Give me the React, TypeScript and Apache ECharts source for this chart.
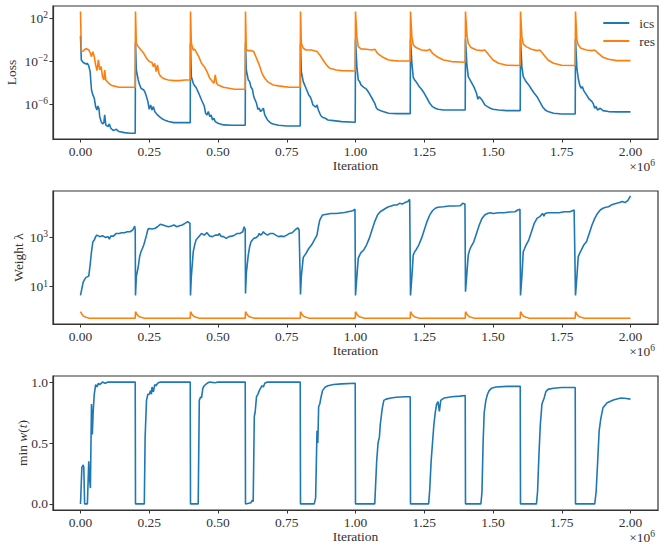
import React, { useEffect, useRef } from "react";
import * as echarts from "echarts";

const FONT = '"Liberation Serif", "DejaVu Serif", serif';
const BLUE = "#1f77b4";
const ORANGE = "#ff7f0e";
const INK = "#333333";
const FS = 13.5;

// x in units of 1e6 iterations
const xTicks = [0, 0.25, 0.5, 0.75, 1, 1.25, 1.5, 1.75, 2];
const lossTickExps = [-6, -2, 2];
const weightTickExps = [1, 3];
const minWTicks = [0, 0.5, 1];
const seriesNames = ["ics", "res"];

// Loss (log10 of value), ics
const icsLossLog10: [number, number][] = [
  [0, 0.36], [0.003, -1.88], [0.01, -2.12], [0.02, -2.25], [0.025, -2.19], [0.03, -2.43], [0.035, -2.96], [0.04, -4.67], [0.045, -5.13], [0.05, -5.44], [0.055, -6.22], [0.06, -6.53], [0.063, -6.16], [0.067, -6.37], [0.07, -7.15], [0.075, -7.61], [0.08, -7.83], [0.085, -7.71], [0.088, -6.99], [0.092, -7.92], [0.1, -8.08], [0.105, -7.83], [0.11, -8.23], [0.12, -8.45], [0.13, -8.33], [0.14, -8.54], [0.16, -8.64], [0.18, -8.7], [0.199, -8.7],
  [0.2, -0.26], [0.203, -2.81], [0.21, -3.74], [0.215, -4.2], [0.22, -4.51], [0.23, -4.67], [0.235, -4.91], [0.24, -5.29], [0.245, -5.75], [0.25, -6.47], [0.255, -6.06], [0.26, -6.53], [0.265, -6.22], [0.27, -6.68], [0.275, -6.84], [0.28, -6.99], [0.29, -7.21], [0.3, -7.4], [0.31, -7.52], [0.32, -7.61], [0.34, -7.71], [0.38, -7.71], [0.399, -7.71],
  [0.4, -0.33], [0.403, -3.43], [0.41, -4.05], [0.415, -4.29], [0.42, -4.42], [0.43, -4.98], [0.44, -5.6], [0.45, -6.16], [0.455, -6.84], [0.46, -6.99], [0.465, -6.68], [0.47, -7.15], [0.475, -6.99], [0.48, -7.46], [0.485, -7.3], [0.49, -7.61], [0.5, -7.77], [0.52, -7.92], [0.55, -7.95], [0.599, -7.95],
  [0.6, -0.33], [0.603, -2.81], [0.61, -3.74], [0.615, -3.89], [0.62, -4.42], [0.625, -4.6], [0.63, -5.29], [0.635, -5.6], [0.64, -5.91], [0.645, -6.47], [0.65, -6.37], [0.655, -6.68], [0.66, -6.53], [0.665, -6.37], [0.67, -6.99], [0.68, -7.46], [0.69, -7.71], [0.7, -7.83], [0.72, -7.95], [0.75, -8.02], [0.799, -8.02],
  [0.8, -0.33], [0.803, -2.96], [0.81, -3.89], [0.815, -4.2], [0.82, -4.51], [0.83, -5.13], [0.835, -5.29], [0.84, -5.6], [0.845, -6.06], [0.85, -6.16], [0.855, -6.28], [0.86, -6.06], [0.865, -6.53], [0.87, -6.84], [0.875, -7.09], [0.88, -7.21], [0.89, -7.3], [0.9, -7.46], [0.92, -7.52], [0.95, -7.61], [0.999, -7.67],
  [1.0, 0.05], [1.005, -2.5], [1.01, -3.74], [1.015, -3.89], [1.02, -4.2], [1.03, -4.42], [1.04, -4.6], [1.05, -4.98], [1.06, -5.44], [1.07, -5.91], [1.075, -6.28], [1.08, -6.47], [1.09, -6.59], [1.1, -6.68], [1.12, -6.84], [1.15, -6.87], [1.199, -6.87],
  [1.2, 0.05], [1.205, -2.19], [1.21, -3.49], [1.215, -3.74], [1.22, -3.89], [1.23, -4.29], [1.24, -4.6], [1.25, -4.98], [1.26, -5.44], [1.27, -5.91], [1.28, -6.22], [1.29, -6.37], [1.3, -6.47], [1.32, -6.53], [1.35, -6.53], [1.399, -6.53],
  [1.4, 0.05], [1.405, -2.34], [1.41, -3.43], [1.42, -3.89], [1.43, -4.36], [1.44, -4.98], [1.445, -5.53], [1.45, -5.29], [1.46, -5.6], [1.47, -6.06], [1.48, -6.22], [1.49, -6.37], [1.5, -6.47], [1.52, -6.53], [1.55, -6.59], [1.599, -6.59],
  [1.6, 0.05], [1.605, -2.5], [1.61, -3.43], [1.62, -3.89], [1.63, -4.2], [1.64, -4.6], [1.65, -4.98], [1.66, -5.29], [1.67, -5.75], [1.68, -6.22], [1.69, -6.53], [1.7, -6.68], [1.72, -6.84], [1.75, -6.9], [1.799, -6.9],
  [1.8, 0.05], [1.805, -2.65], [1.81, -3.58], [1.815, -4.2], [1.82, -4.51], [1.825, -4.36], [1.83, -4.73], [1.84, -5.13], [1.85, -5.53], [1.86, -5.75], [1.865, -5.97], [1.87, -6.37], [1.875, -6.22], [1.88, -6.53], [1.89, -6.37], [1.9, -6.59], [1.92, -6.68], [1.95, -6.71], [2.0, -6.71],
];

// Loss (log10 of value), res
const resLossLog10: [number, number][] = [
  [0, 2.62], [0.003, -1.1], [0.01, -1.04], [0.02, -0.82], [0.03, -0.95], [0.035, -1.19], [0.04, -1.57], [0.045, -1.1], [0.05, -1.57], [0.055, -2.34], [0.06, -2.87], [0.065, -1.88], [0.07, -2.81], [0.075, -2.5], [0.08, -3.43], [0.085, -3.74], [0.088, -2.81], [0.092, -3.74], [0.1, -3.98], [0.11, -4.2], [0.12, -4.29], [0.14, -4.42], [0.199, -4.42],
  [0.2, 2.62], [0.203, -0.33], [0.21, -0.64], [0.22, -0.95], [0.23, -1.26], [0.24, -1.72], [0.25, -2.03], [0.26, -2.12], [0.265, -2.5], [0.27, -2.19], [0.275, -2.96], [0.28, -2.34], [0.285, -3.12], [0.29, -3.36], [0.3, -3.58], [0.31, -3.67], [0.32, -3.74], [0.34, -3.8], [0.36, -3.8], [0.38, -3.74], [0.399, -3.74],
  [0.4, 2.62], [0.403, -0.33], [0.41, -0.95], [0.415, -0.88], [0.42, -1.1], [0.43, -1.57], [0.44, -2.19], [0.45, -2.5], [0.46, -2.96], [0.47, -3.58], [0.48, -3.89], [0.485, -4.05], [0.49, -3.27], [0.495, -4.05], [0.5, -4.2], [0.52, -4.42], [0.54, -4.51], [0.56, -4.6], [0.599, -4.6],
  [0.6, 2.62], [0.603, -0.95], [0.61, -1.01], [0.62, -1.01], [0.63, -1.1], [0.64, -1.72], [0.65, -2.34], [0.66, -3.12], [0.67, -3.58], [0.68, -3.89], [0.69, -4.05], [0.7, -4.2], [0.72, -4.29], [0.74, -4.36], [0.76, -4.42], [0.799, -4.42],
  [0.8, 2.62], [0.803, -0.33], [0.81, -0.79], [0.82, -0.95], [0.84, -0.95], [0.86, -1.1], [0.87, -1.41], [0.88, -1.81], [0.89, -2.19], [0.9, -2.5], [0.906, -2.65], [0.93, -2.81], [0.95, -2.87], [0.999, -2.9],
  [1.0, 2.62], [1.005, 0.29], [1.01, -0.64], [1.02, -0.85], [1.04, -0.88], [1.06, -0.95], [1.07, -0.88], [1.08, -1.26], [1.1, -1.63], [1.12, -1.88], [1.14, -1.94], [1.16, -1.97], [1.199, -1.97],
  [1.2, 2.62], [1.205, 0.29], [1.21, -0.48], [1.22, -0.73], [1.24, -0.95], [1.26, -1.01], [1.27, -0.88], [1.28, -1.26], [1.3, -1.63], [1.32, -1.88], [1.35, -2.03], [1.399, -2.09],
  [1.4, 2.62], [1.405, 0.45], [1.41, -0.33], [1.42, -0.73], [1.44, -0.95], [1.46, -1.01], [1.47, -0.95], [1.48, -1.26], [1.5, -1.88], [1.52, -2.19], [1.55, -2.37], [1.599, -2.4],
  [1.6, 2.62], [1.605, 0.29], [1.61, -0.39], [1.62, -0.64], [1.64, -0.88], [1.66, -1.01], [1.67, -0.95], [1.68, -1.26], [1.7, -1.88], [1.72, -2.19], [1.75, -2.37], [1.799, -2.4],
  [1.8, 2.62], [1.805, -0.02], [1.81, -0.48], [1.82, -0.79], [1.84, -0.95], [1.86, -1.01], [1.87, -0.95], [1.88, -1.19], [1.9, -1.63], [1.92, -1.81], [1.95, -1.94], [2.0, -1.94],
];

// Weight lambda (log10 of value), ics
const icsWeightLog10: [number, number][] = [
  [0, 0.65], [0.005, 0.93], [0.01, 1.2], [0.015, 1.3], [0.02, 1.38], [0.03, 1.43], [0.035, 1.88], [0.04, 2.42], [0.045, 2.82], [0.05, 2.89], [0.055, 3.03], [0.06, 3.09], [0.07, 3.03], [0.08, 3.07], [0.09, 3.0], [0.1, 3.03], [0.105, 2.93], [0.11, 3.05], [0.12, 3.05], [0.13, 3.16], [0.14, 3.16], [0.15, 3.19], [0.16, 3.19], [0.17, 3.23], [0.18, 3.23], [0.19, 3.3], [0.197, 3.46], [0.199, 3.3],
  [0.2, 0.65], [0.203, 1.41], [0.21, 1.81], [0.215, 2.22], [0.22, 2.42], [0.225, 2.55], [0.23, 2.69], [0.235, 2.89], [0.24, 3.09], [0.245, 3.32], [0.25, 3.36], [0.26, 3.34], [0.27, 3.36], [0.28, 3.43], [0.29, 3.53], [0.3, 3.5], [0.31, 3.46], [0.32, 3.43], [0.33, 3.46], [0.34, 3.5], [0.35, 3.43], [0.36, 3.47], [0.37, 3.5], [0.38, 3.57], [0.39, 3.64], [0.398, 3.57],
  [0.4, 0.65], [0.403, 1.41], [0.41, 2.42], [0.415, 2.69], [0.42, 2.89], [0.425, 2.96], [0.43, 3.03], [0.44, 3.16], [0.45, 3.09], [0.46, 3.19], [0.47, 3.05], [0.48, 3.03], [0.49, 3.09], [0.5, 3.09], [0.505, 3.16], [0.51, 3.05], [0.52, 3.03], [0.53, 2.96], [0.54, 3.03], [0.55, 3.05], [0.56, 3.09], [0.57, 3.16], [0.58, 3.16], [0.59, 3.23], [0.595, 3.43], [0.599, 3.32],
  [0.6, 0.73], [0.603, 1.54], [0.61, 2.28], [0.615, 2.62], [0.62, 2.82], [0.63, 2.96], [0.64, 3.0], [0.645, 3.05], [0.65, 3.16], [0.655, 3.09], [0.66, 3.14], [0.665, 3.23], [0.67, 3.16], [0.68, 3.09], [0.69, 3.16], [0.7, 3.16], [0.71, 3.09], [0.72, 3.03], [0.73, 3.05], [0.74, 3.03], [0.75, 3.09], [0.76, 3.16], [0.77, 3.19], [0.78, 3.3], [0.79, 3.39], [0.795, 3.3],
  [0.8, 0.69], [0.803, 1.41], [0.81, 2.19], [0.82, 2.35], [0.83, 2.55], [0.84, 2.69], [0.85, 2.89], [0.86, 3.09], [0.865, 3.43], [0.87, 3.7], [0.88, 3.91], [0.89, 3.93], [0.9, 3.95], [0.91, 3.97], [0.93, 3.97], [0.96, 4.01], [0.99, 4.08], [0.998, 4.14],
  [1.0, 0.65], [1.005, 1.41], [1.01, 2.15], [1.015, 2.28], [1.02, 2.38], [1.03, 2.49], [1.04, 2.69], [1.05, 2.96], [1.06, 3.3], [1.07, 3.64], [1.08, 3.91], [1.09, 4.04], [1.1, 4.11], [1.11, 4.18], [1.12, 4.24], [1.13, 4.27], [1.14, 4.31], [1.15, 4.31], [1.16, 4.38], [1.17, 4.35], [1.18, 4.41], [1.19, 4.45], [1.197, 4.54],
  [1.2, 0.65], [1.205, 1.41], [1.21, 2.28], [1.215, 2.42], [1.22, 2.49], [1.23, 2.69], [1.24, 2.96], [1.25, 3.3], [1.26, 3.64], [1.27, 3.91], [1.28, 4.08], [1.29, 4.18], [1.3, 4.22], [1.32, 4.24], [1.34, 4.27], [1.36, 4.27], [1.38, 4.28], [1.39, 4.38], [1.398, 4.35],
  [1.4, 0.8], [1.405, 1.54], [1.41, 2.28], [1.415, 2.49], [1.42, 2.62], [1.43, 2.82], [1.44, 3.16], [1.45, 3.5], [1.46, 3.77], [1.47, 3.91], [1.48, 3.97], [1.49, 4.0], [1.5, 3.97], [1.52, 4.0], [1.54, 4.0], [1.56, 4.03], [1.58, 4.04], [1.59, 4.11], [1.598, 4.14],
  [1.6, 0.65], [1.605, 1.41], [1.61, 2.42], [1.615, 2.55], [1.62, 2.69], [1.63, 2.89], [1.64, 3.23], [1.65, 3.57], [1.66, 3.77], [1.67, 3.84], [1.68, 3.97], [1.685, 3.86], [1.69, 3.97], [1.7, 4.0], [1.72, 4.0], [1.74, 4.0], [1.76, 4.04], [1.78, 4.04], [1.795, 4.11],
  [1.8, 0.65], [1.805, 1.41], [1.81, 2.22], [1.815, 2.35], [1.82, 2.46], [1.83, 2.69], [1.84, 2.82], [1.85, 3.16], [1.86, 3.5], [1.87, 3.77], [1.88, 3.97], [1.89, 4.11], [1.9, 4.18], [1.91, 4.22], [1.92, 4.24], [1.93, 4.31], [1.94, 4.35], [1.95, 4.38], [1.96, 4.41], [1.97, 4.45], [1.98, 4.41], [1.99, 4.49], [2.0, 4.68],
];

// Weight lambda (log10 of value), res
const resWeightLog10: [number, number][] = [
  [0, -0.01], [0.005, -0.11], [0.01, -0.18], [0.015, -0.22], [0.02, -0.24], [0.03, -0.27], [0.05, -0.28], [0.199, -0.28],
  [0.2, -0.01], [0.205, -0.11], [0.21, -0.18], [0.215, -0.22], [0.22, -0.24], [0.23, -0.27], [0.25, -0.28], [0.399, -0.28],
  [0.4, -0.01], [0.405, -0.11], [0.41, -0.18], [0.415, -0.22], [0.42, -0.24], [0.43, -0.27], [0.45, -0.28], [0.599, -0.28],
  [0.6, -0.01], [0.605, -0.11], [0.61, -0.18], [0.615, -0.22], [0.62, -0.24], [0.63, -0.27], [0.65, -0.28], [0.799, -0.28],
  [0.8, -0.01], [0.805, -0.11], [0.81, -0.18], [0.815, -0.22], [0.82, -0.24], [0.83, -0.27], [0.85, -0.28], [0.999, -0.28],
  [1.0, -0.01], [1.005, -0.11], [1.01, -0.18], [1.015, -0.22], [1.02, -0.24], [1.03, -0.27], [1.05, -0.28], [1.199, -0.28],
  [1.2, -0.01], [1.205, -0.11], [1.21, -0.18], [1.215, -0.22], [1.22, -0.24], [1.23, -0.27], [1.25, -0.28], [1.399, -0.28],
  [1.4, -0.01], [1.405, -0.11], [1.41, -0.18], [1.415, -0.22], [1.42, -0.24], [1.43, -0.27], [1.45, -0.28], [1.599, -0.28],
  [1.6, -0.01], [1.605, -0.11], [1.61, -0.18], [1.615, -0.22], [1.62, -0.24], [1.63, -0.27], [1.65, -0.28], [1.799, -0.28],
  [1.8, -0.01], [1.805, -0.11], [1.81, -0.18], [1.815, -0.22], [1.82, -0.24], [1.83, -0.27], [1.85, -0.28], [2.0, -0.28],
];

// min w(t)
const minW: [number, number][] = [
  [0, 0], [0.005, 0.3], [0.01, 0.32], [0.012, 0.3], [0.015, 0], [0.025, 0], [0.03, 0.35], [0.033, 0.2], [0.036, 0.13], [0.04, 0.82], [0.043, 0.57], [0.046, 0.75], [0.05, 0.9], [0.055, 0.98], [0.06, 0.96], [0.065, 0.99], [0.07, 0.98], [0.08, 1.0], [0.09, 0.99], [0.1, 1.0], [0.199, 1.0],
  [0.2, 0], [0.232, 0], [0.235, 0.55], [0.24, 0.85], [0.245, 0.9], [0.25, 0.9], [0.255, 0.93], [0.258, 0.9], [0.26, 0.96], [0.265, 0.92], [0.27, 0.98], [0.275, 0.97], [0.28, 0.99], [0.29, 1.0], [0.399, 1.0],
  [0.4, 0], [0.428, 0], [0.432, 0.85], [0.437, 0.88], [0.44, 0.87], [0.445, 0.95], [0.45, 0.97], [0.46, 0.99], [0.47, 1.0], [0.49, 0.995], [0.5, 1.0], [0.599, 1.0],
  [0.6, 0], [0.62, 0.01], [0.625, 0.03], [0.628, 0.02], [0.632, 0.72], [0.635, 0.75], [0.64, 0.88], [0.645, 0.9], [0.65, 0.93], [0.655, 0.95], [0.66, 0.97], [0.665, 0.96], [0.67, 0.99], [0.68, 1.0], [0.799, 1.0],
  [0.8, 0], [0.85, 0], [0.855, 0.05], [0.86, 0.6], [0.863, 0.5], [0.866, 0.8], [0.87, 0.82], [0.875, 0.88], [0.88, 0.93], [0.89, 0.96], [0.9, 0.97], [0.92, 0.98], [0.95, 0.985], [0.999, 0.99],
  [1.0, 0], [1.07, 0], [1.073, 0.15], [1.077, 0.35], [1.082, 0.5], [1.087, 0.55], [1.09, 0.65], [1.097, 0.78], [1.103, 0.85], [1.111, 0.86], [1.129, 0.87], [1.148, 0.875], [1.18, 0.88], [1.199, 0.88],
  [1.2, 0], [1.266, 0], [1.27, 0.12], [1.275, 0.35], [1.28, 0.5], [1.285, 0.65], [1.29, 0.75], [1.295, 0.82], [1.3, 0.84], [1.305, 0.76], [1.31, 0.85], [1.323, 0.87], [1.35, 0.88], [1.38, 0.885], [1.399, 0.89],
  [1.4, 0], [1.456, 0], [1.46, 0.1], [1.464, 0.5], [1.468, 0.75], [1.474, 0.85], [1.48, 0.9], [1.486, 0.93], [1.495, 0.95], [1.51, 0.96], [1.55, 0.965], [1.599, 0.965],
  [1.6, 0], [1.658, 0], [1.662, 0.1], [1.667, 0.4], [1.672, 0.65], [1.678, 0.82], [1.686, 0.87], [1.692, 0.92], [1.7, 0.94], [1.72, 0.95], [1.75, 0.955], [1.799, 0.956],
  [1.8, 0], [1.87, 0], [1.875, 0.1], [1.88, 0.32], [1.886, 0.6], [1.892, 0.7], [1.9, 0.79], [1.915, 0.83], [1.94, 0.855], [1.965, 0.87], [1.985, 0.865], [2.0, 0.86],
];

const fromLog10 = (pts: [number, number][]) => pts.map(([x, e]) => [x, Math.pow(10, e)]);

const supRich = {
  b: { fontFamily: FONT, fontSize: FS, color: INK, lineHeight: 16 },
  s: { fontFamily: FONT, fontSize: 9.5, color: INK, lineHeight: 8, verticalAlign: "top" },
};

const powLabel = (v: number) => {
  const e = Math.round(Math.log10(v));
  const t = e < 0 ? "\u2212" + Math.abs(e) : String(e);
  return `{b|10}{s|${t}}`;
};

export default function App() {
  const ref = useRef<HTMLDivElement>(null);

  useEffect(() => {
    if (!ref.current) return;
    const chart = echarts.init(ref.current, null, { renderer: "svg" });

    const grids = [
      { left: 53, top: 6, width: 605, height: 133 },
      { left: 53, top: 191, width: 605, height: 133 },
      { left: 53, top: 376, width: 605, height: 134 },
    ].map((g) => ({
      ...g,
      show: true,
      borderColor: INK,
      borderWidth: 1.2,
      backgroundColor: "#fff",
      containLabel: false,
      outerBoundsMode: "none",
    }));

    const xAxes = [0, 1, 2].map((gi) => ({
      type: "value",
      gridIndex: gi,
      min: -0.1,
      max: 2.1,
      name: "Iteration",
      nameLocation: "middle",
      nameGap: 19,
      nameMoveOverlap: false,
      nameTextStyle: { fontFamily: FONT, fontSize: FS, color: INK },
      axisLine: { show: true, onZero: false, lineStyle: { color: INK, width: 1.2 } },
      axisTick: { show: true, length: 3.5, customValues: xTicks, lineStyle: { color: INK, width: 1 } },
      axisLabel: {
        customValues: xTicks,
        formatter: (v: number) => v.toFixed(2),
        margin: 5,
        fontFamily: FONT,
        fontSize: FS,
        lineHeight: 14,
        color: INK,
      },
      splitLine: { show: false },
    }));

    const yCommon = {
      nameLocation: "middle",
      nameRotate: 90,
      nameMoveOverlap: false,
      axisLine: { show: true, onZero: false, lineStyle: { color: INK, width: 1.2 } },
      splitLine: { show: false },
    };

    const lossTicks = lossTickExps.map((e) => Math.pow(10, e));
    const weightTicks = weightTickExps.map((e) => Math.pow(10, e));

    const yAxes = [
      {
        ...yCommon,
        type: "log",
        logBase: 10,
        gridIndex: 0,
        min: Math.pow(10, -9.23),
        max: Math.pow(10, 3.14),
        name: "Loss",
        nameGap: 35,
        nameTextStyle: { fontFamily: FONT, fontSize: FS, color: INK },
        axisTick: { show: true, length: 3.5, customValues: lossTicks, lineStyle: { color: INK, width: 1 } },
        axisLabel: { customValues: lossTicks, formatter: powLabel, margin: 5, rich: supRich },
      },
      {
        ...yCommon,
        type: "log",
        logBase: 10,
        gridIndex: 1,
        min: Math.pow(10, -0.51),
        max: Math.pow(10, 4.88),
        name: "Weight \u03bb",
        nameGap: 28,
        nameTextStyle: { fontFamily: FONT, fontSize: FS, color: INK },
        axisTick: { show: true, length: 3.5, customValues: weightTicks, lineStyle: { color: INK, width: 1 } },
        axisLabel: { customValues: weightTicks, formatter: powLabel, margin: 5, rich: supRich },
      },
      {
        ...yCommon,
        type: "value",
        gridIndex: 2,
        min: -0.05,
        max: 1.05,
        name: "{r|min }{i|w}{r|(}{i|t}{r|)}",
        nameGap: 24,
        nameTextStyle: {
          fontFamily: FONT,
          fontSize: FS,
          color: INK,
          rich: {
            r: { fontFamily: FONT, fontSize: FS, color: INK },
            i: { fontFamily: FONT, fontSize: FS, color: INK, fontStyle: "italic" },
          },
        },
        axisTick: { show: true, length: 3.5, customValues: minWTicks, lineStyle: { color: INK, width: 1 } },
        axisLabel: {
          customValues: minWTicks,
          formatter: (v: number) => v.toFixed(1),
          margin: 5,
          fontFamily: FONT,
          fontSize: FS,
          color: INK,
        },
      },
    ];

    const line = (name: string, color: string, xi: number, data: number[][]) => ({
      type: "line",
      name,
      xAxisIndex: xi,
      yAxisIndex: xi,
      data,
      symbol: "none",
      showSymbol: false,
      clip: true,
      lineStyle: { color, width: 1.6 },
      itemStyle: { color },
    });

    const exponentTops = [158, 343, 529];

    const option = {
      animation: false,
      backgroundColor: "#fff",
      grid: grids,
      xAxis: xAxes,
      yAxis: yAxes,
      legend: {
        data: seriesNames,
        orient: "vertical",
        right: 5,
        top: 11,
        itemWidth: 26,
        itemHeight: 14,
        itemGap: 4,
        itemStyle: { opacity: 0 },
        formatter: (name: string) => `{p|}{t|${name}}`,
        textStyle: {
          fontFamily: FONT,
          fontSize: FS,
          color: INK,
          rich: {
            p: { width: 5 },
            t: { fontFamily: FONT, fontSize: FS, color: INK },
          },
        },
      },
      graphic: exponentTops.map((top) => ({
        type: "text",
        right: 10,
        top,
        style: { text: "{b|\u00d710}{s|6}", rich: supRich, fill: INK },
      })),
      series: [
        line(seriesNames[0], BLUE, 0, fromLog10(icsLossLog10)),
        line(seriesNames[1], ORANGE, 0, fromLog10(resLossLog10)),
        line(seriesNames[0], BLUE, 1, fromLog10(icsWeightLog10)),
        line(seriesNames[1], ORANGE, 1, fromLog10(resWeightLog10)),
        line(seriesNames[0], BLUE, 2, minW),
      ],
    };

    chart.setOption(option as any);
    return () => chart.dispose();
  }, []);

  return (
    <div
      ref={ref}
      style={{ position: "absolute", left: 0, top: 0, width: 665, height: 550 }}
    />
  );
}
